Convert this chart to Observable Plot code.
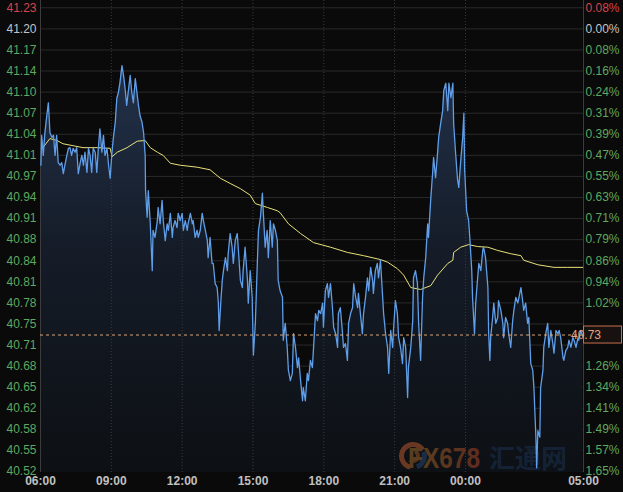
<!DOCTYPE html>
<html><head><meta charset="utf-8">
<script src="https://cdn.jsdelivr.net/npm/d3@7"></script>
<script src="https://cdn.jsdelivr.net/npm/@observablehq/plot@0.6"></script>
<style>html,body{margin:0;padding:0;background:#0a0a0a;} #chart{width:623px;height:492px;overflow:hidden}</style>
</head><body><div id="chart"></div>
<script>
// ---- data (minutes after 06:00, price) ----
const priceMinutes = [1,3,7,11,16,20,24,29,33,37,41,45,50,54,58,62,67,71,75,79,83,88,92,96,101,105,109,113,118,122,126,130,134,139,143,147,151,156,160,164,169,173,177,181,185,190,194,198,202,207,211,215,219,224,228,232,236,241,245,249,253,258,262,266,
267,271,274,279,284,286,291,297,299,304,309,312,317,322,325,330,335,337,342,347,350,355,360,363,368,373,375,381,386,388,393,398,401,406,411,414,419,424,426,431,436,439,444,449,452,454,459,462,465,470,475,477,482,487,490,495,500,503,508,513,515,520,526,528,533,538,541,546,551,554,559,564,566,571,576,579,584,589,592,597,602,604,
609,615,617,622,627,630,635,640,643,648,653,656,661,666,668,673,678,681,686,691,694,699,704,707,712,717,719,724,729,732,737,742,745,750,755,757,762,767,770,775,780,783,788,793,796,801,806,808,813,818,821,826,831,834,839,844,846,851,856,859,864,869,872,877,882,885,890,895,897,902,907,910,915,920,923,928,933,935,941,
946,948,953,958,961,966,971,974,979,984,986,992,997,999,1004,1009,1012,1017,1022,1025,1030,1035,1038,1043,1048,1050,1055,1060,1063,1068,1073,1076,1078,1083,1088,1091,1096,1098,1103,1106,1111,1114,1119,1124,1126,1131,1137,1139,1142,1144,1149,1152,1157,1162,1164,1170,1175,1177,1182,1187,1190,1195,1200,1203,1208,1213,1216,1221,1226,1228,1233,1238,1241,1246,1251,1254,1259,1261,1264,1269,1271,1277,1279,1284,1289,1292,1297,1302,1305,1310,1315,1318,1322,1328,1330,1335,1340,1343,1348,1353,1356,1361,1366,1368,1373,1378];
const prices = [40.991,41.037,41.006,41.040,41.067,41.087,41.041,41.034,41.037,41.006,41.037,40.995,40.991,40.995,40.978,40.991,41.006,41.017,41.018,41.006,41.017,41.011,41.018,40.978,40.995,41.006,40.991,41.011,40.980,41.017,41.006,40.980,41.017,41.011,40.980,41.017,41.047,41.011,41.037,41.006,41.017,40.991,40.971,41.006,41.032,41.057,41.094,41.103,41.118,41.144,41.129,41.109,41.083,41.109,41.129,41.103,41.087,41.124,41.103,41.083,41.067,41.057,41.041,41.006,
40.952,40.911,40.952,40.901,40.829,40.891,40.880,40.906,40.926,40.901,40.937,40.906,40.875,40.901,40.891,40.917,40.880,40.895,40.906,40.895,40.917,40.906,40.917,40.891,40.906,40.891,40.901,40.917,40.901,40.906,40.880,40.891,40.880,40.891,40.917,40.906,40.891,40.875,40.849,40.880,40.840,40.840,40.809,40.803,40.779,40.737,40.788,40.814,40.829,40.849,40.829,40.855,40.886,40.865,40.840,40.875,40.886,40.860,40.814,40.803,40.829,40.865,40.814,40.779,40.829,40.788,40.699,40.748,40.840,40.891,40.911,40.948,40.921,40.865,40.891,40.849,40.906,40.865,40.901,40.891,40.875,40.814,
40.798,40.788,40.722,40.748,40.711,40.676,40.660,40.671,40.732,40.711,40.680,40.695,40.660,40.629,40.649,40.629,40.671,40.660,40.691,40.680,40.711,40.763,40.752,40.768,40.763,40.779,40.742,40.798,40.809,40.788,40.809,40.772,40.742,40.732,40.711,40.763,40.772,40.737,40.711,40.717,40.691,40.748,40.763,40.772,40.809,40.788,40.772,40.794,40.763,40.732,40.763,40.788,40.818,40.798,40.834,40.814,40.794,40.829,40.840,40.818,40.845,40.794,40.763,40.732,40.711,40.671,40.737,40.711,40.737,40.783,40.763,40.726,40.711,40.686,40.726,40.711,40.634,40.680,40.711,
40.752,40.818,40.829,40.809,40.748,40.691,40.788,40.818,40.849,40.901,40.880,40.941,40.983,41.003,40.972,41.009,41.034,41.055,41.075,41.106,41.117,41.075,41.117,41.095,41.117,41.055,41.009,40.968,40.957,40.998,41.034,41.071,40.983,40.921,40.906,40.880,40.829,40.788,40.732,40.779,40.818,40.840,40.829,40.860,40.865,40.849,40.803,40.732,40.691,40.726,40.757,40.779,40.748,40.757,40.783,40.768,40.748,40.726,40.757,40.748,40.732,40.711,40.752,40.768,40.788,40.779,40.788,40.803,40.779,40.768,40.779,40.748,40.757,40.686,40.676,40.649,40.573,40.526,40.583,40.573,40.649,40.676,40.711,40.732,40.748,40.711,40.737,40.717,40.702,40.737,40.732,40.737,40.726,40.695,40.691,40.706,40.711,40.722,40.711,40.726,40.722,40.711,40.726,40.722,40.737,40.728];
const maMinutes = [6,24,42,57,83,108,144,177,182,195,220,246,266,279,297,312,330,355,398,431,457,482,508,533,546,577,602,609,630,661,694,737,780,821,864,882,907,923,941,966,992,1009,1035,1048,1050,1068,1088,1111,1137,1162,1195,1221,1228,1264,1305,1340,1378];
const maValues = [41.018,41.032,41.029,41.024,41.021,41.018,41.018,41.017,41.004,41.011,41.018,41.028,41.029,41.018,41.011,41.006,40.994,40.991,40.988,40.984,40.971,40.963,40.955,40.945,40.932,40.926,40.921,40.918,40.901,40.886,40.872,40.865,40.857,40.852,40.846,40.842,40.832,40.822,40.803,40.800,40.806,40.822,40.840,40.845,40.857,40.865,40.869,40.866,40.865,40.860,40.855,40.852,40.845,40.838,40.834,40.834,40.834];
const priceTickLabels = ["41.23","41.20","41.17","41.14","41.10","41.07","41.04","41.01","40.97","40.94","40.91","40.88","40.84","40.81","40.78","40.75","40.71","40.68","40.65","40.62","40.58","40.55","40.52"];
const pctTickLabels = ["0.08%","0.00%","0.08%","0.16%","0.24%","0.31%","0.39%","0.47%","0.55%","0.63%","0.71%","0.79%","0.86%","0.94%","1.02%","1.10%","1.18%","1.26%","1.34%","1.41%","1.49%","1.57%","1.65%"];
const timeTickLabels = ["06:00","09:00","12:00","15:00","18:00","21:00","00:00","05:00"];
const timeTickMinutes = [0,180,360,540,720,900,1080,1380];
const lastPrice = 40.73;
const TICK_TOP = 41.233, TICK_STEP = 0.0324;
const Y_MIN = 40.5187, Y_MAX = 41.2442;

// ---- build ----
const t0 = Date.UTC(2019, 4, 10, 6, 0);
const toDate = m => new Date(t0 + m * 60000);
const priceData = priceMinutes.map((m, i) => ({t: toDate(m), v: prices[i]}));
const maData = maMinutes.map((m, i) => ({t: toDate(m), v: maValues[i]}));
const yTicks = priceTickLabels.map((_, i) => TICK_TOP - i * TICK_STEP);
const priceLabelOf = new Map(yTicks.map((v, i) => [v, priceTickLabels[i]]));
const pctLabelOf = new Map(yTicks.map((v, i) => [v, pctTickLabels[i]]));
const xTicks = timeTickMinutes.map(toDate);
const timeLabelOf = new Map(xTicks.map((d, i) => [+d, timeTickLabels[i]]));

const RED = "#d9434b", GREY = "#c4c4c4", GREEN = "#5fa85f";
const rightTicks = yTicks.filter(v => Math.abs(v - lastPrice) > TICK_STEP * 0.6);

function defs() {
  const d = document.createElementNS("http://www.w3.org/2000/svg", "defs");
  d.innerHTML = `<linearGradient id="areaGrad" x1="0" y1="0" x2="0" y2="1">
    <stop offset="0%" stop-color="#22314a"/><stop offset="45%" stop-color="#151c28"/><stop offset="100%" stop-color="#0d1014"/></linearGradient>
    <linearGradient id="fxGrad" x1="0" y1="0" x2="1" y2="0">
    <stop offset="0%" stop-color="#8a5e24"/><stop offset="45%" stop-color="#8f5324"/><stop offset="100%" stop-color="#983c24"/></linearGradient>`;
  return d;
}
function watermark() {
  const g = d3.create("svg:g").attr("opacity", 0.6);
  const cx = 413, cy = 456;
  g.append("path").attr("transform", `translate(${cx},${cy})`)
    .attr("d", d3.arc()({innerRadius: 9, outerRadius: 14, startAngle: -2.9, endAngle: 1.0})).attr("fill", "#a8512a");
  g.append("path").attr("transform", `translate(${cx},${cy})`)
    .attr("d", d3.arc()({innerRadius: 9, outerRadius: 14, startAngle: 1.2, endAngle: 2.8})).attr("fill", "#263f66");
  g.append("path").attr("transform", `translate(${cx},${cy})`)
    .attr("d", d3.arc()({innerRadius: 3, outerRadius: 7, startAngle: 0.4, endAngle: 3.8})).attr("fill", "#8a4a26");
  g.append("text").attr("x", 444).attr("y", 468).attr("textLength", 72).attr("lengthAdjust", "spacingAndGlyphs")
    .attr("font-size", 30).attr("font-weight", "bold").attr("font-family", "'Liberation Sans Narrow','Liberation Sans',Arial,sans-serif")
    .attr("fill", "url(#fxGrad)").text("FX678");
  g.append("text").attr("x", 528).attr("y", 468).attr("font-size", 26).attr("font-weight", "bold")
    .attr("font-family", "'Noto Sans CJK SC',sans-serif").attr("fill", "#1a2e4c").text("汇通网");
  return g.node();
}

const axisBase = {tickSize: 0, fontSize: 12, label: null};
const plot = Plot.plot({
  width: 623, height: 492,
  marginLeft: 40, marginRight: 40, marginTop: 0, marginBottom: 20,
  style: {background: "#0a0a0a", color: GREY, fontFamily: "'Liberation Sans', Arial, sans-serif", fontSize: "12px"},
  x: {type: "utc", domain: [toDate(0), toDate(1380)], axis: null, label: null},
  y: {domain: [Y_MIN, Y_MAX], axis: null, label: null},
  marks: [
    defs,
    Plot.gridY(yTicks, {stroke: "#2a2a2a", strokeOpacity: 1}),
    Plot.areaY(priceData, {x: "t", y1: Y_MIN, y2: "v", fill: "url(#areaGrad)"}),
    Plot.gridX(xTicks, {stroke: "#3a3a3a", strokeOpacity: 1, strokeDasharray: "1,2"}),
    Plot.ruleX([xTicks[0], xTicks[xTicks.length - 1]], {stroke: "#3c3c3c"}),
    watermark,
    Plot.line(maData, {x: "t", y: "v", stroke: "#e8e27a", strokeWidth: 1}),
    Plot.line(priceData, {x: "t", y: "v", stroke: "#5f9ee9", strokeWidth: 1.3}),
    Plot.ruleY([lastPrice], {stroke: "#d9a577", strokeDasharray: "3,3"}),
    Plot.axisY(yTicks.slice(0, 1), {...axisBase, anchor: "left", tickPadding: 4, tickFormat: d => priceLabelOf.get(d), color: RED}),
    Plot.axisY(yTicks.slice(1, 2), {...axisBase, anchor: "left", tickPadding: 4, tickFormat: d => priceLabelOf.get(d), color: GREY}),
    Plot.axisY(yTicks.slice(2), {...axisBase, anchor: "left", tickPadding: 4, tickFormat: d => priceLabelOf.get(d), color: GREEN}),
    Plot.axisY(rightTicks.slice(0, 1), {...axisBase, anchor: "right", tickPadding: 2, tickFormat: d => pctLabelOf.get(d), color: RED}),
    Plot.axisY(rightTicks.slice(1, 2), {...axisBase, anchor: "right", tickPadding: 2, tickFormat: d => pctLabelOf.get(d), color: GREY}),
    Plot.axisY(rightTicks.slice(2), {...axisBase, anchor: "right", tickPadding: 2, tickFormat: d => pctLabelOf.get(d), color: GREEN}),
    Plot.axisX(xTicks, {...axisBase, anchor: "bottom", tickPadding: 4, tickFormat: d => timeLabelOf.get(+d), color: "#c0c0c0", fontWeight: "bold"})
  ]
});
document.getElementById("chart").appendChild(plot);

// last-price tag on the right axis
const svg = d3.select(plot);
const yy = plot.scale("y").apply(lastPrice);
const tag = svg.append("g");
tag.append("rect").attr("x", 583.5).attr("y", yy - 8.5).attr("width", 38).attr("height", 17)
  .attr("fill", "#17120f").attr("stroke", "#c8704f");
tag.append("text").attr("x", 586).attr("y", yy).attr("dy", "0.35em").attr("fill", "#e8a47c")
  .attr("font-size", 12).attr("font-family", "'Liberation Sans', Arial, sans-serif").text(d3.format(".2f")(lastPrice));
</script>
</body></html>
